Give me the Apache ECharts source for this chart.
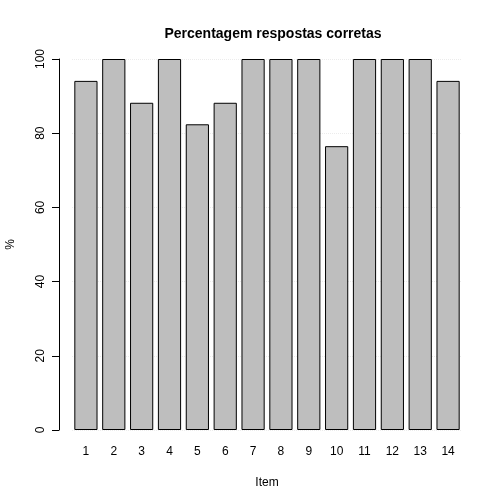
<!DOCTYPE html>
<html>
<head>
<meta charset="utf-8">
<script src="https://cdn.jsdelivr.net/npm/echarts@6/dist/echarts.min.js"></script>
<style>
  html, body { margin: 0; padding: 0; background: #fff; }
  #chart { width: 504px; height: 504px; }
</style>
</head>
<body>
<div id="chart"></div>
<script>
// dados do grafico
var items = ["1", "2", "3", "4", "5", "6", "7", "8", "9", "10", "11", "12", "13", "14"];
var percentCorrect = [94.1, 100, 88.2, 100, 82.4, 88.2, 100, 100, 100, 76.5, 100, 100, 100, 94.1];
var yTicks = [0, 20, 40, 60, 80, 100];

var chart = echarts.init(document.getElementById("chart"));
var fontFam = "Liberation Sans";

var option = {
  animation: false,
  backgroundColor: "#ffffff",
  title: {
    text: "Percentagem respostas corretas",
    left: 268,
    top: 22,
    textAlign: "center",
    textStyle: { fontFamily: fontFam, fontSize: 14, fontWeight: "bold", color: "#000" }
  },
  grid: { left: 72, right: 42, top: 59, bottom: 74, containLabel: false, outerBoundsMode: "none" },
  xAxis: {
    type: "category",
    data: items,
    boundaryGap: true,
    name: "Item",
    nameLocation: "middle",
    nameGap: 47,
    nameTextStyle: { fontFamily: fontFam, fontSize: 12, color: "#000" },
    axisLine: { show: false },
    axisTick: { show: false },
    axisLabel: { fontFamily: fontFam, fontSize: 12, color: "#000", margin: 16 }
  },
  yAxis: {
    type: "value",
    min: 0,
    max: 100,
    interval: 20,
    offset: 13,
    name: "%",
    nameLocation: "middle",
    nameGap: 42,
    nameRotate: 90,
    nameTextStyle: { fontFamily: fontFam, fontSize: 12, color: "#000" },
    axisLine: { show: true, lineStyle: { color: "#000", width: 1 } },
    axisTick: { show: true, length: 7, lineStyle: { color: "#000" } },
    axisLabel: {
      fontFamily: fontFam, fontSize: 12, color: "#000", rotate: 90, margin: 12,
      formatter: function (v) { return yTicks.indexOf(v) >= 0 ? String(v) : ""; }
    },
    splitLine: { show: true, lineStyle: { color: "#ececec", type: "dotted", width: 1 } }
  },
  series: [{
    type: "bar",
    data: percentCorrect,
    barCategoryGap: "16.7%",
    itemStyle: { color: "#bebebe", borderColor: "#000", borderWidth: 1 }
  }]
};

chart.setOption(option);
</script>
</body>
</html>
